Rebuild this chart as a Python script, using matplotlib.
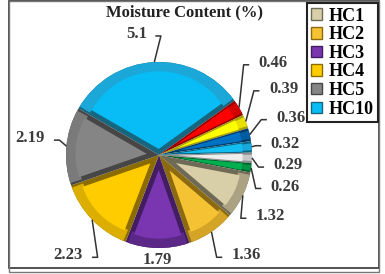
import matplotlib.pyplot as plt
import numpy as np
from matplotlib.patches import Rectangle

# slice values, clockwise from the big HC10 slice
values = [5.1, 0.46, 0.39, 0.36, 0.32, 0.29, 0.26, 1.32, 1.36, 1.79, 2.23, 2.19]
labels = ['5.1', '0.46', '0.39', '0.36', '0.32', '0.29', '0.26', '1.32', '1.36', '1.79', '2.23', '2.19']
colors = ['#08BDF5', '#FF0000', '#FFFF00', '#0072C4', '#12BDF2', '#EDEDED', '#00B050',
          '#D8CEA8', '#F4C232', '#7A36B0', '#FFCC00', '#858585']
rims = ['#1BA8D8', '#D40000', '#E8E000', '#005CA0', '#18A8DA', '#C8C8C8', '#009444',
        '#AAA283', '#D4A426', '#5C2888', '#DCAE00', '#7A7A7A']
darks = ['#17667F', '#900000', '#A89E00', '#003A68', '#0B6684', '#8C8C8C', '#005E2C',
         '#6E6A55', '#8C6A10', '#431D62', '#8A6C00', '#464646']
legend_names = ['HC1', 'HC2', 'HC3', 'HC4', 'HC5', 'HC10']
legend_idx = [7, 8, 9, 10, 11, 0]

# label text positions (data units, pie radius = 1)
label_pos = [(-0.24, 1.30), (1.23, 0.99), (1.34, 0.71), (1.42, 0.40), (1.36, 0.12),
             (1.39, -0.11), (1.36, -0.34), (1.20, -0.66), (0.94, -1.08), (-0.02, -1.13),
             (-0.98, -1.08), (-1.39, 0.18)]

plt.rcParams['font.family'] = ['Liberation Serif', 'DejaVu Serif']

fig = plt.figure(figsize=(3.85, 2.74), dpi=100)
ax = fig.add_axes([0, 0, 1, 1])

start = 150
# dark base, bevel rim ring, then the inset face
base, _ = ax.pie(values, colors=darks, startangle=start, counterclock=False, radius=1.0,
                 wedgeprops=dict(linewidth=0))
rim, _ = ax.pie(values, colors=rims, startangle=start, counterclock=False, radius=1.0,
                wedgeprops=dict(width=0.13, linewidth=0))
for w in rim:
    d = min(1.5, 0.2 * (w.theta2 - w.theta1))
    w.set_theta1(w.theta1 + d)
    w.set_theta2(w.theta2 - d)
face, _ = ax.pie(values, colors=colors, startangle=start, counterclock=False, radius=0.88,
                 wedgeprops=dict(linewidth=0))
for w in face:
    m = np.deg2rad((w.theta1 + w.theta2) / 2)
    half = np.deg2rad((w.theta2 - w.theta1) / 2)
    s = min(0.055 / np.sin(min(half, np.pi / 2)), 0.2)
    w.set_center((s * np.cos(m), s * np.sin(m)))
    w.set_radius(0.9 - s)

ax.set_xlim(-159 / 93, (385 - 159) / 93)
ax.set_ylim(-119 / 93, 155 / 93)
ax.set_aspect('equal')
ax.axis('off')

# data labels with elbow leader lines
for i, w in enumerate(base):
    ang = np.deg2rad((w.theta1 + w.theta2) / 2)
    ex, ey = np.cos(ang), np.sin(ang)
    tx, ty = label_pos[i]
    ax.text(tx, ty, labels[i], ha='center', va='center', fontsize=12, fontweight='bold',
            color='#3A3A3A')
    if labels[i] == '1.79':
        continue
    half = 0.06 * len(labels[i]) + 0.02
    if tx > ex:
        sx = tx - half
        kx = sx - 0.06
    else:
        sx = tx + half
        kx = sx + 0.06
    ky = ty - 0.02
    ax.plot([ex, kx, sx], [ey, ky, ky], color='#333333', lw=1.1, solid_capstyle='butt')

fig.text(0.48, 0.955, 'Moisture Content (%)', ha='center', va='center', fontsize=12,
         fontweight='bold', color='#222222')

leg = fig.legend([face[i] for i in legend_idx], legend_names, loc='upper right',
                 bbox_to_anchor=(378 / 385, 1 - 3 / 274), prop=dict(weight='bold', size=13),
                 handlelength=0.6, handleheight=0.6, handletextpad=0.35, labelspacing=0.09,
                 borderpad=0.25, borderaxespad=0, fancybox=False, framealpha=1)
leg.get_frame().set_edgecolor('#222222')
leg.get_frame().set_linewidth(1.5)
for h, d in zip(leg.legend_handles, [darks[i] for i in legend_idx]):
    h.set_edgecolor(d)
    h.set_linewidth(1.0)

# panel border
fig.patches.append(Rectangle((9 / 385, 6 / 274), 370 / 385, 267 / 274, transform=fig.transFigure,
                             fill=False, edgecolor='#333333', lw=1.2))
fig.patches.append(Rectangle((9 / 385, 2 / 274), 370 / 385, 271 / 274, transform=fig.transFigure,
                             fill=False, edgecolor='#777777', lw=1.0))

fig.savefig('out.png', dpi=100)
